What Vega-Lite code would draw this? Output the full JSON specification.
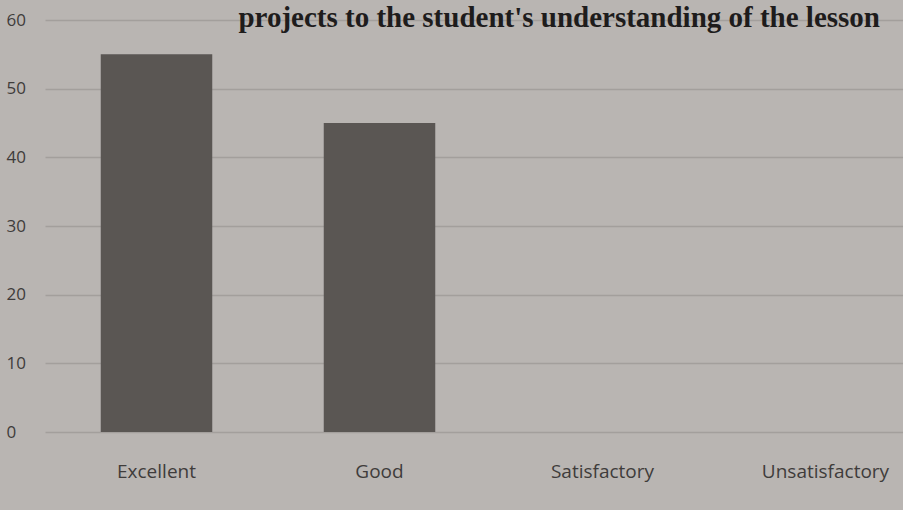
{
  "$schema": "https://vega.github.io/schema/vega-lite/v6.json",
  "width": 858,
  "height": 412,
  "autosize": {"type": "none"},
  "padding": {"left": 45, "top": 20, "right": 0, "bottom": 78},
  "background": "#b9b5b2",
  "title": {
    "text": "projects to the student's understanding   of the lesson",
    "anchor": "end",
    "orient": "top",
    "offset": -22,
    "font": "Liberation Serif",
    "fontWeight": "bold",
    "fontSize": 29,
    "color": "#1e1c1c",
    "dx": -57
  },
  "config": {
    "view": {"stroke": null},
    "axis": {"labelFont": "Open Sans", "labelColor": "#3f3c3b", "titleFont": "Open Sans"}
  },
  "data": {
    "values": [
      {"category": "Excellent", "value": 55},
      {"category": "Good", "value": 45},
      {"category": "Satisfactory", "value": 0},
      {"category": "Unsatisfactory", "value": 0}
    ]
  },
  "mark": {"type": "bar", "color": "#5a5653"},
  "encoding": {
    "x": {
      "field": "category",
      "type": "nominal",
      "sort": null,
      "scale": {"paddingInner": 0.5, "paddingOuter": 0.25, "range": [0, 892]},
      "axis": {
        "title": null,
        "labelAngle": 0,
        "labelFontSize": 19,
        "labelPadding": 30,
        "ticks": false,
        "domain": false
      }
    },
    "y": {
      "field": "value",
      "type": "quantitative",
      "scale": {"domain": [0, 60]},
      "axis": {
        "title": null,
        "values": [0, 10, 20, 30, 40, 50, 60],
        "labelFontSize": 17,
        "labelAlign": "left",
        "labelPadding": 39,
        "ticks": false,
        "domain": false,
        "gridColor": "#a39f9c",
        "gridWidth": 1.5
      }
    }
  }
}
